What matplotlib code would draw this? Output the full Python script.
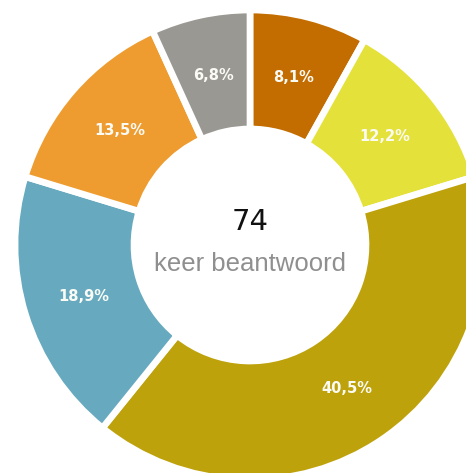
import matplotlib
matplotlib.use("Agg")
import matplotlib.pyplot as plt
import numpy as np

# slices, clockwise from 12 o'clock
values = [8.1, 12.2, 40.5, 18.9, 13.5, 6.8]
labels = ["8,1%", "12,2%", "40,5%", "18,9%", "13,5%", "6,8%"]
colors = ["#c36d00", "#e4e23a", "#bea20c", "#67aabf", "#ee9c30", "#9a9893"]
total = 74
subtitle = "keer beantwoord"

fig = plt.figure(figsize=(4.66, 4.73), dpi=100)
ax = fig.add_axes([0, 0, 1, 1])

R = 235
w = 119
wedges, _ = ax.pie(values, radius=R, startangle=90, counterclock=False,
                   colors=colors,
                   wedgeprops=dict(width=w, edgecolor="white", linewidth=4.8))

# percent labels in the middle of the ring
rmid = R - w / 2 - 2
ang = 90.0
for v, lab in zip(values, labels):
    a = np.deg2rad(ang - v * 3.6 / 2)
    ax.text(rmid * np.cos(a), rmid * np.sin(a), lab, color="#fbfbf6",
            fontsize=10.5, fontweight="bold", ha="center", va="center")
    ang -= v * 3.6

ax.text(0, 23, str(total), ha="center", va="center", fontsize=21, color="#111111")
ax.text(0, -19, subtitle, ha="center", va="center", fontsize=18.5,
        color="#8f8f8f", family="Liberation Sans")

ax.set_xlim(-250, 216)
ax.set_ylim(-228, 245)
ax.axis("off")

fig.savefig("out.png", dpi=100)
